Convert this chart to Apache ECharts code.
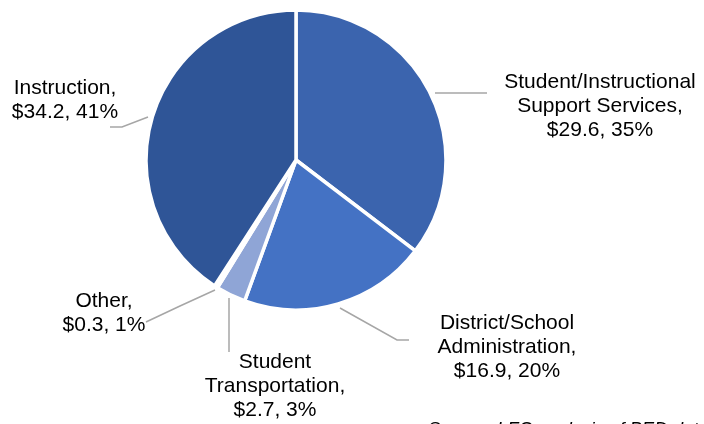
<!DOCTYPE html>
<html>
<head>
<meta charset="utf-8">
<style>
  html, body { margin: 0; padding: 0; background: #ffffff; }
  #chart { width: 704px; height: 424px; }
</style>
<script src="https://cdn.jsdelivr.net/npm/echarts@6/dist/echarts.min.js"></script>
</head>
<body>
<div id="chart"></div>
<script>
// Spending by function, $ millions, clockwise from 12 o'clock
const categories = [
  'Student/Instructional\nSupport Services',
  'District/School\nAdministration',
  'Student\nTransportation',
  'Other',
  'Instruction'
];
const amounts = [29.6, 16.9, 2.7, 0.3, 34.2];
const percentLabels = [35, 20, 3, 1, 41];
const sliceColors = ['#3b64ae', '#4472c4', '#8fa5d6', '#a9b8e0', '#2f5597'];
const sourceNote = 'Source: LFC analysis of PED data';

// Callout placement for each label: text centre and leader line
const calloutLayout = [
  { x: 600, y: 106, line: [[435, 93], [461, 93], [487, 93]] },
  { x: 507, y: 347, line: [[340, 308], [397, 340], [409, 340]] },
  { x: 275, y: 386, line: [[229, 298], [229, 325], [229, 352]] },
  { x: 104, y: 313, line: [[215, 290], [180, 306], [146, 322]] },
  { x: 65,  y: 100, line: [[148, 117], [122, 127], [110, 127]] }
];

const pieData = categories.map((name, i) => ({
  name: name,
  value: amounts[i],
  itemStyle: { color: sliceColors[i] }
}));

const chart = echarts.init(document.getElementById('chart'), null, { renderer: 'canvas' });

chart.setOption({
  animation: false,
  backgroundColor: '#ffffff',
  series: [{
    type: 'pie',
    center: [296, 160],
    radius: 150,
    startAngle: 90,
    clockwise: true,
    avoidLabelOverlap: false,
    data: pieData,
    itemStyle: { borderColor: '#ffffff', borderWidth: 3.5 },
    label: {
      show: true,
      color: '#000000',
      fontFamily: '"Liberation Sans", Arial, sans-serif',
      fontSize: 21,
      lineHeight: 24,
      align: 'center',
      formatter: (p) => p.name + ',\n$' + p.value.toFixed(1) + ', ' + percentLabels[p.dataIndex] + '%'
    },
    labelLine: {
      show: true,
      lineStyle: { color: '#a6a6a6', width: 1.5 }
    },
    labelLayout: (params) => {
      const c = calloutLayout[params.dataIndex];
      return {
        x: c.x,
        y: c.y,
        align: 'center',
        verticalAlign: 'middle',
        labelLinePoints: c.line
      };
    },
    emphasis: { disabled: true }
  }],
  graphic: [{
    type: 'text',
    left: 428,
    top: 420,
    style: {
      text: sourceNote,
      fill: '#000000',
      font: 'italic 18.5px "Liberation Sans", Arial, sans-serif'
    }
  }]
});
</script>
</body>
</html>
